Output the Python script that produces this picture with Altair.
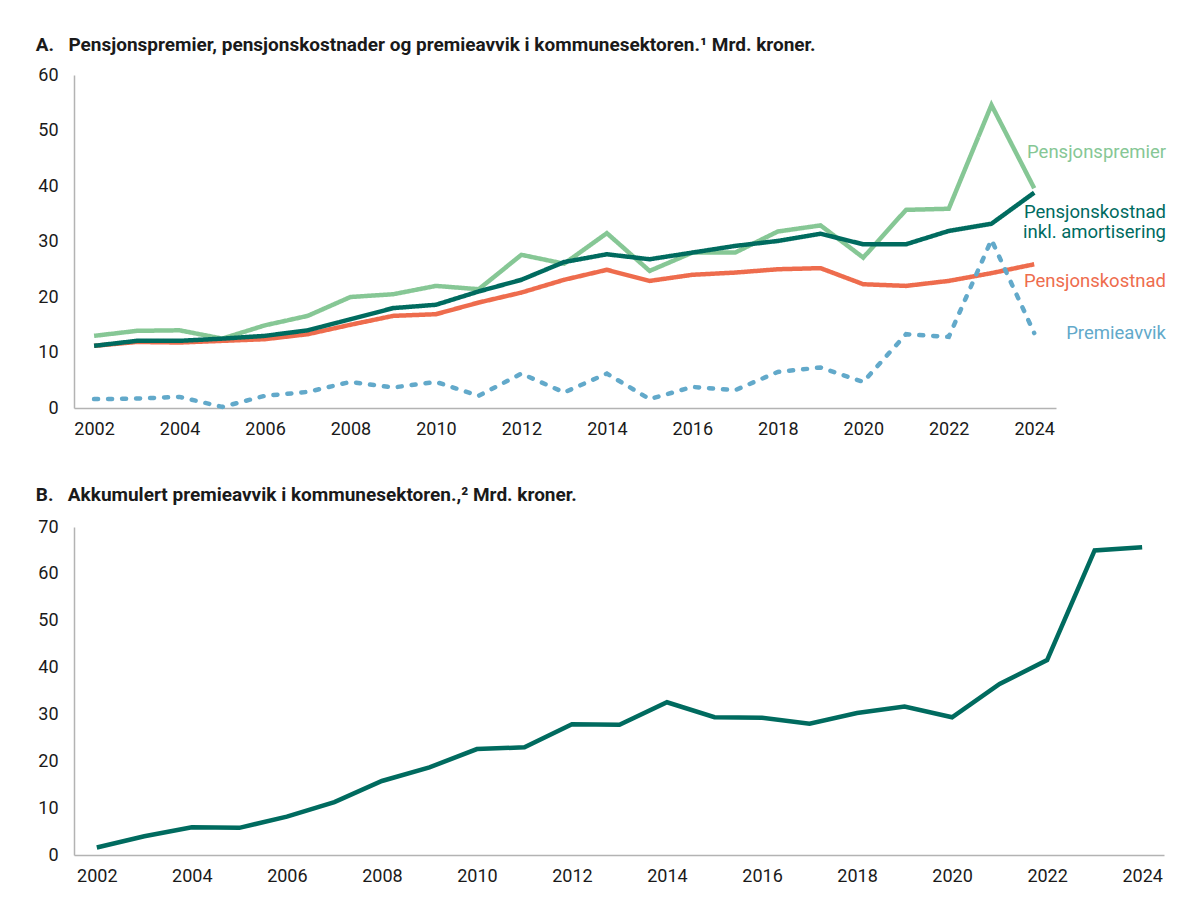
import altair as alt
import pandas as pd

years = list(range(2002, 2025))
premier = [13.0, 13.9, 14.0, 12.5, 14.9, 16.6, 20.0, 20.5, 22.0, 21.4, 27.6, 26.0,
           31.5, 24.7, 28.0, 28.0, 31.8, 32.9, 27.1, 35.7, 35.9, 54.6, 39.6]
kostnad_amort = [11.2, 12.1, 12.1, 12.5, 13.0, 14.0, 16.0, 18.0, 18.6, 21.0, 23.1, 26.3,
                 27.7, 26.8, 28.0, 29.2, 30.1, 31.4, 29.5, 29.5, 31.9, 33.2, 38.8]
kostnad = [11.2, 11.9, 11.8, 12.1, 12.4, 13.3, 15.0, 16.6, 16.9, 19.0, 20.8, 23.1,
           24.9, 22.9, 24.0, 24.4, 25.0, 25.2, 22.3, 22.0, 22.9, 24.3, 25.9]
avvik = [1.6, 1.7, 2.0, 0.2, 2.2, 2.9, 4.7, 3.7, 4.7, 2.2, 6.2, 2.8,
         6.2, 1.6, 3.8, 3.2, 6.5, 7.3, 4.7, 13.3, 12.8, 30.3, 13.5]
akkum = [1.6, 4.0, 5.9, 5.8, 8.2, 11.3, 15.8, 18.7, 22.6, 23.0, 27.9, 27.8,
         32.6, 29.4, 29.3, 28.0, 30.3, 31.7, 29.4, 36.5, 41.6, 65.0, 65.7]

series_names = ["Pensjonspremier", "Pensjonskostnad", "Pensjonskostnad inkl. amortisering", "Premieavvik"]
series_values = [premier, kostnad, kostnad_amort, avvik]
series_colors = ["#86c795", "#ee6c4d", "#006b5f", "#62a9ca"]
series_dash = [[1, 0], [1, 0], [1, 0], [4, 10]]
# label lines per series and vertical offsets (px) from the last point
label_lines = [["Pensjonspremier"], ["Pensjonskostnad"], ["Pensjonskostnad", "inkl. amortisering"], ["Premieavvik"]]
label_dy = [[-36], [17], [19, 39], [0]]

title_a = "A.\u2002  Pensjonspremier, pensjonskostnader og premieavvik i kommunesektoren.\u00b9 Mrd. kroner."
title_b = "B.\u2002  Akkumulert premieavvik i kommunesektoren.,\u00b2  Mrd. kroner."

FONT = "Roboto"
even_years = list(range(2002, 2025, 2))

WA, HA = 982, 333
WB, HB = 1090, 328

def xaxis():
    return alt.Axis(values=even_years, format="d", title=None, grid=False, ticks=False,
                    domainColor="#b3b3b3", domainWidth=1.5, labelFontSize=18, labelFont=FONT,
                    labelColor="#1a1a1a", labelPadding=12, labelFlush=False)

def yaxis(maxv):
    return alt.Axis(values=list(range(0, maxv + 1, 10)), title=None, grid=False, ticks=False,
                    domainColor="#b3b3b3", domainWidth=1.5, labelFontSize=18, labelFont=FONT,
                    labelColor="#1a1a1a", labelPadding=16)

xa = alt.Scale(domain=[2001.53, 2024.51], nice=False, zero=False)
ya = alt.Scale(domain=[0, 60], nice=False)

layers = []
for name, vals, col, dash in zip(series_names, series_values, series_colors, series_dash):
    df = pd.DataFrame({"year": years, "value": vals, "series": name})
    layers.append(
        alt.Chart(df).mark_line(color=col, strokeWidth=4.5, strokeDash=dash,
                                strokeCap="butt" if dash[1] == 0 else "round").encode(
            x=alt.X("year:Q", scale=xa, axis=xaxis()),
            y=alt.Y("value:Q", scale=ya, axis=yaxis(60)),
        )
    )

for name, vals, col, lines, dys in zip(series_names, series_values, series_colors, label_lines, label_dy):
    for txt, dy in zip(lines, dys):
        df = pd.DataFrame({"value": [vals[-1]], "label": [txt]})
        layers.append(
            alt.Chart(df).mark_text(align="right", baseline="middle", font=FONT, fontSize=18.5,
                                    color=col, dy=dy).encode(
                x=alt.value(WA + 110),
                y=alt.Y("value:Q", scale=ya),
                text="label:N",
            )
        )

chart_a = alt.layer(*layers).properties(
    width=WA, height=HA,
    view=alt.ViewBackground(stroke=None),
    title=alt.TitleParams(title_a, anchor="start", dx=-2, fontSize=19, font=FONT, fontWeight="bold",
                          color="#1a1a1a", offset=11),
)

df_b = pd.DataFrame({"year": years, "value": akkum})
chart_b = alt.Chart(df_b).mark_line(color="#006b5f", strokeWidth=4.5).encode(
    x=alt.X("year:Q", scale=alt.Scale(domain=[2001.52, 2024.46], nice=False, zero=False), axis=xaxis()),
    y=alt.Y("value:Q", scale=alt.Scale(domain=[0, 70], nice=False), axis=yaxis(70)),
).properties(
    width=WB, height=HB,
    view=alt.ViewBackground(stroke=None),
    title=alt.TitleParams(title_b, anchor="start", dx=-2, fontSize=19, font=FONT, fontWeight="bold",
                          color="#1a1a1a", offset=13),
)

chart = alt.vconcat(chart_a, chart_b, spacing=48).configure(
    background="white",
    padding={"left": 27, "top": 28, "right": 5, "bottom": 5},
    view=alt.ViewConfig(stroke=None),
)

chart.save("out.html", embed_options={"renderer": "svg", "actions": False})
